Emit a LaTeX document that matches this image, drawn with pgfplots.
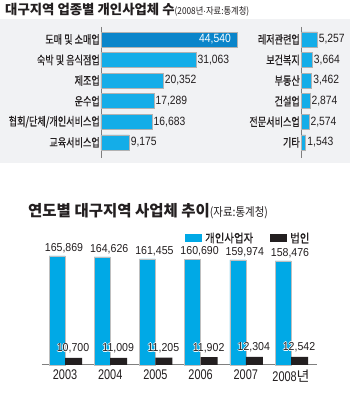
\documentclass[border=0pt]{standalone}
\usepackage{pgfplots}
\pgfplotsset{compat=1.18}
\usepackage{fontspec}
\setmainfont{Noto Sans CJK KR}
\newfontfamily\kr[FakeStretch=0.87]{Noto Sans CJK KR}
\newfontfamily\krl[FakeStretch=0.78,FakeBold=0.5]{Noto Sans CJK KR}
\newfontfamily\krg[FakeStretch=0.87,FakeBold=0.5]{Noto Sans CJK KR}
\newfontfamily\krt{Noto Sans CJK KR}
\newfontfamily\num[FakeStretch=0.86]{Liberation Sans}
\newfontfamily\numb[FakeStretch=0.92]{Liberation Sans}
\newfontfamily\numy[FakeStretch=0.78]{Liberation Sans}
\definecolor{panel}{HTML}{F1F2F4}
\definecolor{dblue}{HTML}{0A85CA}
\definecolor{lblue}{HTML}{14ADE8}
\definecolor{bblue}{HTML}{00A9E6}
\definecolor{bblack}{HTML}{231F20}
\definecolor{txt}{HTML}{231F20}
\definecolor{axisgray}{HTML}{7F7F7F}
\newcommand\halo[1]{\leavevmode\rlap{\color{white}\kern0.8pt#1}\rlap{\color{white}\kern-0.8pt#1}\rlap{\color{white}\raisebox{0.8pt}{#1}}\rlap{\color{white}\raisebox{-0.8pt}{#1}}#1}
\begin{document}
\begin{tikzpicture}[x=1pt,y=1pt]
\useasboundingbox (0,0) rectangle (350,404);
\fill[white] (0,0) rectangle (350,404);
\fill[panel] (0,241) rectangle (350,385);
% titles
\node[anchor=base west, inner sep=0pt, text=txt] at (5,389) {{\krt\bfseries\fontsize{13.4}{15}\selectfont 대구지역 업종별 개인사업체 수}{\kr\fontsize{9.5}{11}\selectfont (2008년{\num\fontsize{9.5}{11}\selectfont ·}자료:통계청)}};
\node[anchor=base west, inner sep=0pt, text=txt] at (28,187) {{\krt\bfseries\fontsize{15.5}{17}\selectfont 연도별 대구지역 사업체 추이}{\kr\fontsize{12}{14}\selectfont (자료:통계청)}};
% legend
\fill[bblue] (185,162) rectangle (202,170);
\node[anchor=west, inner sep=0pt, text=txt] at (205,166) {\krg\fontsize{12}{14}\selectfont 개인사업자};
\fill[bblack] (270,162) rectangle (287,170);
\node[anchor=west, inner sep=0pt, text=txt] at (290,166) {\krg\fontsize{12}{14}\selectfont 법인};

% top-left
\begin{axis}[at={(101pt,377pt)}, anchor=north west, scale only axis,
  width=152.7pt, height=130.8pt, xmin=0, xmax=50000, ymin=-0.6, ymax=5.75,
  y dir=reverse, axis x line=none, axis y line=left,
  y axis line style={-, draw=axisgray, line width=0.8pt},
  ytick={0,...,5}, major tick length=0pt,
  yticklabels={도매 및 소매업,숙박 및 음식점업,제조업,운수업,협회/단체/개인서비스업,교육서비스업},
  yticklabel style={font=\krl\fontsize{11.7}{13}\selectfont, text=txt, inner sep=1pt},
  clip=false, point meta=explicit symbolic]
\addplot[xbar, bar width=15pt, bar shift=0pt, fill=dblue, draw=gray!60, line width=0.5pt,
  nodes near coords, nodes near coords style={anchor=east, text=white, font=\num\fontsize{12}{14}\selectfont, inner sep=0pt, xshift=-6pt}]
  coordinates {(44540,0) [44{,}540]};
\addplot[xbar, bar width=15pt, bar shift=0pt, fill=lblue, draw=gray!60, line width=0.5pt,
  nodes near coords, nodes near coords style={anchor=west, text=txt, font=\num\fontsize{12}{14}\selectfont, inner sep=1.5pt}]
  coordinates {(31063,1) [31{,}063] (20352,2) [20{,}352] (17289,3) [17{,}289] (16683,4) [16{,}683] (9175,5) [9{,}175]};
\end{axis}

% top-right
\begin{axis}[at={(301pt,377pt)}, anchor=north west, scale only axis,
  width=45.8pt, height=130.8pt, xmin=0, xmax=15000, ymin=-0.6, ymax=5.75,
  y dir=reverse, axis x line=none, axis y line=left,
  y axis line style={-, draw=axisgray, line width=0.8pt},
  ytick={0,...,5}, major tick length=0pt,
  yticklabels={레저관련업,보건복지,부동산,건설업,전문서비스업,기타},
  yticklabel style={font=\krl\fontsize{11.7}{13}\selectfont, text=txt, inner sep=1pt},
  clip=false, point meta=explicit symbolic]
\addplot[xbar, bar width=15pt, bar shift=0pt, fill=lblue, draw=gray!60, line width=0.5pt,
  nodes near coords, nodes near coords style={anchor=west, text=txt, font=\num\fontsize{12}{14}\selectfont, inner sep=1.5pt}]
  coordinates {(5257,0) [5{,}257] (3664,1) [3{,}664] (3462,2) [3{,}462] (2874,3) [2{,}874] (2574,4) [2{,}574] (1543,5) [1{,}543]};
\end{axis}

% bottom
\begin{axis}[at={(42pt,39pt)}, anchor=south west, scale only axis,
  width=275pt, height=118.3pt, xmin=-0.509, xmax=5.575, ymin=0, ymax=180000,
  axis x line=bottom, axis y line=none,
  x axis line style={-, draw=axisgray, line width=1pt},
  xtick={0,...,5}, major tick length=0pt,
  xticklabels={2003,2004,2005,2006,2007,2008{\krt 년}},
  xticklabel style={font=\numy\fontsize{14}{16}\selectfont, text=txt, inner sep=0pt, yshift=-5pt},
  clip=false, point meta=explicit symbolic]
\addplot[ybar, bar width=16pt, bar shift=-8pt, fill=bblue, draw=gray!50, line width=0.5pt,
  nodes near coords, nodes near coords style={anchor=south, text=txt, font=\numb\fontsize{11.5}{13}\selectfont, inner sep=0pt, xshift=-1pt, yshift=3pt}]
  coordinates {(0,165869) [165{,}869] (1,164626) [164{,}626] (2,161455) [161{,}455] (3,160690) [160{,}690] (4,159974) [159{,}974] (5,158476) [158{,}476]};
\addplot[ybar, bar width=17pt, bar shift=8.5pt, fill=bblack, draw=none,
  nodes near coords={\halo{\pgfplotspointmeta}}, nodes near coords style={anchor=south, text=txt, font=\numb\fontsize{11.5}{13}\selectfont, inner sep=0pt, xshift=8pt, yshift=3.5pt}]
  coordinates {(0,10700) [10{,}700] (1,11009) [11{,}009] (2,11205) [11{,}205] (3,11902) [11{,}902] (4,12304) [12{,}304] (5,12542) [12{,}542]};
\end{axis}
\end{tikzpicture}
\end{document}
